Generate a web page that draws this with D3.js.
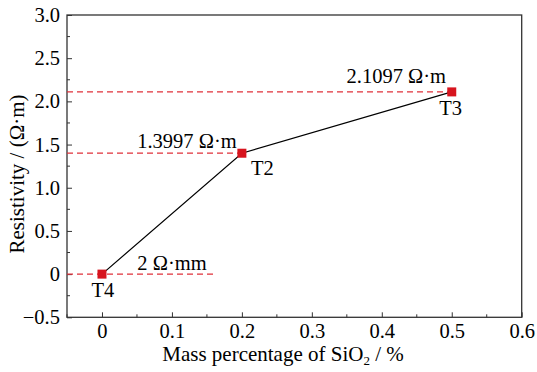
<html><head><meta charset="utf-8">
<script src="https://cdn.jsdelivr.net/npm/d3@7"></script>
</head><body style="margin:0"><svg id="c" width="537" height="372"></svg>
<script>
const samples = ["T4", "T2", "T3"];
const sio2 = [0, 0.2, 0.5];
const resistivity = [0, 1.3997, 2.1097];
const valueLabels = ["2 Ω·mm", "1.3997 Ω·m", "2.1097 Ω·m"];
const dashEnds = [0.16, 0.2, 0.5];
const xTicks = [0, 0.1, 0.2, 0.3, 0.4, 0.5, 0.6];
const yTicks = [-0.5, 0, 0.5, 1.0, 1.5, 2.0, 2.5, 3.0];

const FONT = '"Liberation Serif"';
const svg = d3.select("#c");
const L = 67, R = 521.7, T = 15, B = 317.3;
const x = d3.scaleLinear().domain([-0.05, 0.6]).range([L, R]);
const y = d3.scaleLinear().domain([-0.5, 3.0]).range([B, T]);
function serif(sel, size) {
  return sel.attr("font-family", "Liberation Serif").style("font-family", FONT).attr("font-size", size);
}

// frame
svg.append("rect").attr("x", L).attr("y", T).attr("width", R - L).attr("height", B - T)
  .attr("fill", "none").attr("stroke", "#333").attr("stroke-width", 1.3);

// x axis ticks
const xa = d3.axisBottom(x).tickValues(xTicks).tickSize(-5).tickPadding(6)
  .tickFormat(d => d === 0 ? "0" : d3.format(".1f")(d));
const gx = svg.append("g").attr("transform", `translate(0,${B})`).call(xa);
gx.select(".domain").remove();
serif(gx, 20.5);
serif(gx.selectAll("text"), 20.5).attr("fill", "#000");
gx.selectAll(".tick line").attr("stroke", "#333");
const xMinor = d3.range(-0.05, 0.6, 0.05).filter(v => Math.abs(Math.round(v * 10) - v * 10) > 0.01);
svg.append("g").selectAll("line").data(xMinor).join("line")
  .attr("x1", d => x(d)).attr("x2", d => x(d)).attr("y1", B).attr("y2", B - 3).attr("stroke", "#333");

// y axis ticks
const ya = d3.axisLeft(y).tickValues(yTicks).tickSize(-5).tickPadding(7)
  .tickFormat(d => d === 0 ? "0" : (d < 0 ? "\u2212" + d3.format(".1f")(-d) : d3.format(".1f")(d)));
const gy = svg.append("g").attr("transform", `translate(${L},0)`).call(ya);
gy.select(".domain").remove();
serif(gy, 20.5);
serif(gy.selectAll("text"), 20.5).attr("fill", "#000");
gy.selectAll(".tick line").attr("stroke", "#333");
const yMinor = d3.range(-0.25, 3.0, 0.5);
svg.append("g").selectAll("line").data(yMinor).join("line")
  .attr("x1", L).attr("x2", L + 3).attr("y1", d => y(d)).attr("y2", d => y(d)).attr("stroke", "#333");

// dashed guides
svg.append("g").selectAll("line").data(resistivity).join("line")
  .attr("x1", L).attr("x2", (d, i) => x(dashEnds[i]))
  .attr("y1", d => y(d)).attr("y2", d => y(d))
  .attr("stroke", "#e0303a").attr("stroke-width", 1.2).attr("stroke-dasharray", "6,4");

// line
const pts = sio2.map((v, i) => [v, resistivity[i]]).sort((a, b) => a[0] - b[0]);
svg.append("path").datum(pts)
  .attr("d", d3.line().x(d => x(d[0])).y(d => y(d[1])))
  .attr("fill", "none").attr("stroke", "#000").attr("stroke-width", 1.2);

// markers
svg.append("g").selectAll("rect").data(sio2).join("rect")
  .attr("x", d => x(d) - 4.5).attr("y", (d, i) => y(resistivity[i]) - 4.5)
  .attr("width", 9).attr("height", 9).attr("fill", "#d7141e");

// value labels
const vlPos = [[172, -4], [187, -5], [396.3, -8.7]];
serif(svg.append("g").selectAll("text").data(valueLabels).join("text"), 20.5)
  .attr("x", (d, i) => vlPos[i][0]).attr("y", (d, i) => y(resistivity[i]) + vlPos[i][1])
  .attr("text-anchor", "middle").text(d => d);

// sample labels
const slOff = [[1, 23], [20.5, 21.7], [-1, 23]];
serif(svg.append("g").selectAll("text").data(samples).join("text"), 20.5)
  .attr("x", (d, i) => x(sio2[i]) + slOff[i][0]).attr("y", (d, i) => y(resistivity[i]) + slOff[i][1])
  .attr("text-anchor", "middle").text(d => d);

// axis titles
const xt = serif(svg.append("text"), 21).attr("x", 283).attr("y", 361).attr("text-anchor", "middle");
xt.append("tspan").text("Mass percentage of SiO");
xt.append("tspan").attr("font-size", 13).attr("dy", 4).text("2");
xt.append("tspan").attr("dy", -4).text(" / %");

serif(svg.append("text"), 21).attr("transform", `translate(24,174) rotate(-90)`)
  .attr("text-anchor", "middle").text("Resistivity / (Ω·m)");
</script></body></html>
